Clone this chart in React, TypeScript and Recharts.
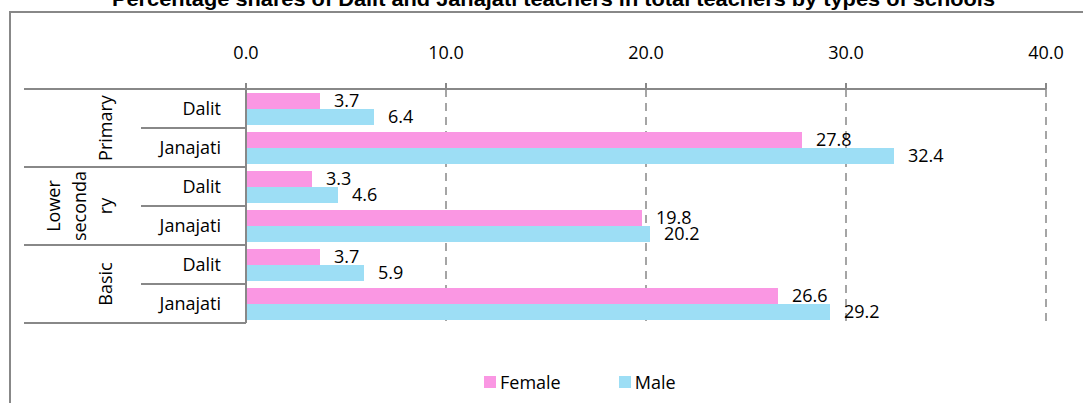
import React from "react";
import { BarChart, Bar, XAxis, YAxis, CartesianGrid, LabelList, Legend } from "recharts";

// Rows run top to bottom: school type, then caste group inside it
const SCHOOL_TYPES = ["Primary", "Lower secondary", "Basic"];
// Excel wrapped the long type name into three lines
const SCHOOL_TYPE_LINES = [["Primary"], ["Lower", "seconda", "ry"], ["Basic"]];
const CASTES = ["Dalit", "Janajati"];
const FEMALE = [3.7, 27.8, 3.3, 19.8, 3.7, 26.6];
const MALE = [6.4, 32.4, 4.6, 20.2, 5.9, 29.2];
const X_TICKS = [0, 10, 20, 30, 40];

const TITLE = "Percentage shares of Dalit and Janajati teachers in total teachers by types of schools";

const W = 1083;
const H = 403;
const X_AXIS_H = 30;
const MARGIN = { top: 89 - X_AXIS_H, right: 37, bottom: 80, left: 0 };
const Y_AXIS_W = 246;
const FONT = "'Open Sans', 'Noto Sans', sans-serif";
const FS = 18;
const INK = "#000000";
const RULE = "#888888";
const FEMALE_COLOR = "#fa97e3";
const MALE_COLOR = "#9ddef5";

const data = SCHOOL_TYPES.flatMap((type, g) =>
  CASTES.map((caste, c) => {
    const i = g * CASTES.length + c;
    return { id: `${type}|${caste}`, group: g, caste, female: FEMALE[i], male: MALE[i] };
  })
);

const ROW_H = (H - MARGIN.top - X_AXIS_H - MARGIN.bottom) / data.length;

function CategoryTick(props: any) {
  const { x, y, payload } = props;
  const index = props.index ?? payload.index;
  const row = data[index];
  const first = index % CASTES.length === 0;
  const last = index % CASTES.length === CASTES.length - 1;
  const top = y - ROW_H / 2;
  const bottom = y + ROW_H / 2;
  const groupMid = top + (ROW_H * CASTES.length) / 2;
  const lines = SCHOOL_TYPE_LINES[row.group];
  const baseX = 111.5;

  return (
    <g>
      <text x={x} y={y} dy="0.36em" textAnchor="end" fontFamily={FONT} fontSize={FS} fill={INK}>
        {row.caste}
      </text>
      {index === 0 && (
        <line x1={24} x2={Y_AXIS_W} y1={top} y2={top} stroke={RULE} strokeWidth={2} />
      )}
      <line x1={last ? 24 : 141} x2={Y_AXIS_W} y1={bottom} y2={bottom} stroke={RULE} strokeWidth={2} />
      {first &&
        lines.map((ln, k) => (
          <text
            key={k}
            transform={`translate(${baseX - (lines.length - 1 - k) * 25.8}, ${groupMid}) rotate(-90)`}
            textAnchor="middle"
            fontFamily={FONT}
            fontSize={FS}
            fill={INK}
          >
            {ln}
          </text>
        ))}
    </g>
  );
}

function LegendBox({ payload }: any) {
  return (
    <div style={{ display: "flex", alignItems: "center", fontFamily: FONT, fontSize: FS, color: INK }}>
      {(payload || []).map((p: any, i: number) => (
        <div key={i} style={{ display: "flex", alignItems: "center", marginLeft: i === 0 ? 0 : 58 }}>
          <span style={{ display: "inline-block", width: 12, height: 12, background: p.color, marginRight: 4 }} />
          <span style={{ lineHeight: "20px" }}>{p.value}</span>
        </div>
      ))}
    </div>
  );
}

export default function App() {
  return (
    <div style={{ position: "absolute", left: 0, top: 0, width: W, height: H, background: "#fff", overflow: "hidden" }}>
      <svg width={W} height={H} style={{ position: "absolute", left: 0, top: 0 }}>
        <path d={`M10 ${H + 5} V12 H${W + 5}`} fill="none" stroke={RULE} strokeWidth={2} />
        <text
          x={112}
          y={5.5}
          textLength={883}
          lengthAdjust="spacingAndGlyphs"
          fontFamily="'Liberation Sans', Arial, sans-serif"
          fontWeight="bold"
          fontSize={20}
          fill={INK}
        >
          {TITLE}
        </text>
      </svg>
      <div style={{ position: "absolute", left: 0, top: 0 }}>
        <BarChart
          width={W}
          height={H}
          data={data}
          layout="vertical"
          margin={MARGIN}
          barCategoryGap="10%"
          barGap={0}
        >
          <CartesianGrid horizontal={false} stroke={RULE} strokeWidth={1.5} strokeDasharray="8 6" />
          <XAxis
            type="number"
            orientation="top"
            domain={[0, 40]}
            ticks={X_TICKS}
            height={X_AXIS_H}
            tickFormatter={(v: number) => v.toFixed(1)}
            axisLine={{ stroke: RULE, strokeWidth: 2 }}
            tickLine={{ stroke: RULE, strokeWidth: 2 }}
            tickSize={6}
            tickMargin={24}
            tick={{ fontFamily: FONT, fontSize: FS, fill: INK }}
          />
          <YAxis
            type="category"
            dataKey="id"
            width={Y_AXIS_W}
            axisLine={{ stroke: RULE, strokeWidth: 2 }}
            tickLine={false}
            tickSize={0}
            tickMargin={25}
            interval={0}
            tick={<CategoryTick />}
          />
          <Legend
            verticalAlign="middle"
            align="center"
            content={<LegendBox />}
            wrapperStyle={{ top: 372, left: 484, width: "auto" }}
          />
          <Bar dataKey="female" name="Female" fill={FEMALE_COLOR} isAnimationActive={false}>
            <LabelList
              dataKey="female"
              position="right"
              offset={14}
              formatter={(v: any) => Number(v).toFixed(1)}
              style={{ fontFamily: FONT, fontSize: FS, fill: INK }}
            />
          </Bar>
          <Bar dataKey="male" name="Male" fill={MALE_COLOR} isAnimationActive={false}>
            <LabelList
              dataKey="male"
              position="right"
              offset={14}
              formatter={(v: any) => Number(v).toFixed(1)}
              style={{ fontFamily: FONT, fontSize: FS, fill: INK }}
            />
          </Bar>
        </BarChart>
      </div>
    </div>
  );
}
